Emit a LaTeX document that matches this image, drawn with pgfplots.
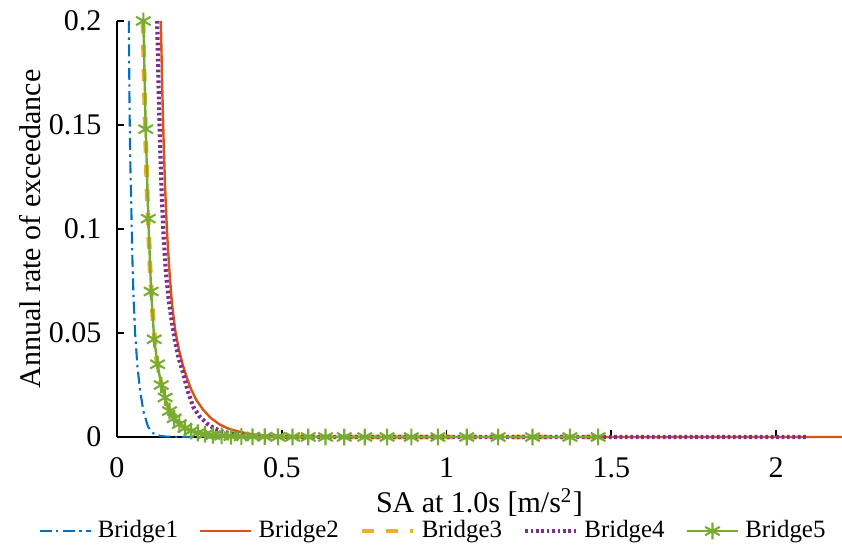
\documentclass[border=0pt]{standalone}
\usepackage{fontspec}
\setmainfont{Liberation Serif}
\usepackage{pgfplots}
\pgfplotsset{compat=1.18}
\definecolor{cB1}{rgb}{0.0,0.447,0.741}
\definecolor{cB2}{rgb}{0.85,0.325,0.098}
\definecolor{cB3}{rgb}{0.929,0.694,0.125}
\definecolor{cB4}{rgb}{0.494,0.184,0.556}
\definecolor{cB5}{rgb}{0.466,0.674,0.188}
\begin{document}
\begin{tikzpicture}
\begin{axis}[
  scale only axis, width=241.7pt, height=138.7pt,
  xmin=0, xmax=2.2, ymin=0, ymax=0.2,
  clip=false,
  axis lines*=left,
  axis line style={black, line width=0.6pt},
  tick align=inside, major tick length=2.5pt,
  tick style={black, line width=0.6pt},
  xtick={0,0.5,1,1.5,2}, xticklabels={0,0.5,1,1.5,2},
  ytick={0,0.05,0.1,0.15,0.2}, yticklabels={0,0.05,0.1,0.15,0.2},
  /pgf/number format/assume math mode=true,
  ticklabel style={font=\fontsize{10}{12}\selectfont, black},
  xticklabel style={yshift=-3.4pt},
  yticklabel style={xshift=-1.7pt},
  xlabel={SA at 1.0s [m/s\textsuperscript{2}]},
  ylabel={Annual rate of exceedance},
  label style={font=\fontsize{10}{12}\selectfont},
  xlabel style={at={(axis description cs:0.5,-0.1824)}, anchor=base},
  ylabel style={at={(axis description cs:-0.12,0.5)}, anchor=center},
  legend columns=5,
  legend style={draw=none, fill=none, at={(axis description cs:0.4386,-0.226)}, anchor=center,
    font=\fontsize{8.3}{10}\selectfont, /tikz/every even column/.append style={column sep=5pt}},
  legend cell align=left,
]
\addplot[cB1, line width=0.7pt, dash pattern=on 4pt off 1.5pt on 0.8pt off 1.5pt] coordinates {
(0.036,0.2)(0.038,0.16)(0.040,0.135)(0.043,0.114)(0.046,0.09)(0.050,0.068)(0.055,0.05)(0.062,0.034)(0.070,0.0226)(0.080,0.0125)(0.094,0.005)(0.11,0.0018)(0.13,0.0006)(0.15,0.0002)(0.2,0.00005)(0.3,0.00001)(0.6,0.000001)
};
\addlegendentry{Bridge1}
\addplot[cB2, line width=0.8pt] coordinates {
(0.133,0.2)(0.137,0.17)(0.141,0.145)(0.146,0.12)(0.152,0.098)(0.159,0.08)(0.167,0.064)(0.177,0.051)(0.188,0.042)(0.2,0.0345)(0.213,0.028)(0.225,0.023)(0.24,0.018)(0.262,0.013)(0.285,0.0091)(0.312,0.0060)(0.34,0.0039)(0.373,0.0025)(0.41,0.0013)(0.454,0.0006)(0.5,0.0003)(0.56,0.00016)(0.65,0.00008)(0.78,0.00004)(1.0,0.000015)(1.3,0.000006)(1.7,0.000003)(2.2,0.000001)
};
\addlegendentry{Bridge2}
\addplot[cB3, line width=1.6pt, dash pattern=on 4pt off 4pt] coordinates {
(0.079,0.2)(0.085,0.155)(0.092,0.115)(0.1,0.082)(0.11,0.055)(0.12,0.038)(0.132,0.027)(0.145,0.019)(0.16,0.0125)(0.18,0.0078)(0.2,0.005)(0.225,0.0029)(0.25,0.0018)(0.29,0.0009)(0.35,0.0004)(0.45,0.00014)(0.6,0.00005)(0.8,0.00002)(1.1,0.000007)(1.46,0.000003)
};
\addlegendentry{Bridge3}
\addplot[cB4, line width=1.4pt, dash pattern=on 0.9pt off 0.9pt] coordinates {
(0.122,0.2)(0.126,0.17)(0.130,0.145)(0.135,0.12)(0.141,0.098)(0.148,0.08)(0.157,0.066)(0.166,0.056)(0.175,0.047)(0.187,0.038)(0.201,0.0306)(0.215,0.022)(0.231,0.0146)(0.25,0.0100)(0.272,0.0066)(0.296,0.0041)(0.322,0.0025)(0.36,0.0013)(0.403,0.0005)(0.45,0.00025)(0.52,0.00012)(0.6,0.00006)(0.72,0.00003)(0.9,0.000012)(1.15,0.000005)(1.5,0.000002)(2.09,0.000001)
};
\addlegendentry{Bridge4}
\addplot[cB5, line width=0.8pt, mark=asterisk, mark size=2.8pt, mark options={solid, line width=0.7pt}] coordinates {
(0.0800,0.200)(0.0872,0.148)(0.0950,0.105)(0.1036,0.070)(0.1129,0.047)(0.1231,0.035)(0.1342,0.025)(0.1462,0.019)(0.1594,0.0125)(0.1737,0.009)(0.1894,0.0062)(0.2064,0.0043)(0.2250,0.0029)(0.2452,0.0020)(0.2673,0.0013)(0.2914,0.0009)(0.3176,0.0006)(0.3462,0.0004)(0.3773,0.00028)(0.4113,0.00019)(0.4483,0.00013)(0.4886,0.00009)(0.5326,0.00006)(0.5805,0.00004)(0.6328,0.00003)(0.6897,0.00002)(0.7518,0.000014)(0.8195,0.00001)(0.8932,0.000007)(0.9736,0.000005)(1.0612,0.0000035)(1.1567,0.0000025)(1.2608,0.0000018)(1.3743,0.0000013)(1.46,0.000001)
};
\addlegendentry{Bridge5}
\coordinate (bl) at (rel axis cs:0,0);
\coordinate (tr) at (rel axis cs:1,1);
\end{axis}
\pgfresetboundingbox
\path ([xshift=-39pt,yshift=-36pt]bl) rectangle ([yshift=7pt]tr);
\end{tikzpicture}
\end{document}
